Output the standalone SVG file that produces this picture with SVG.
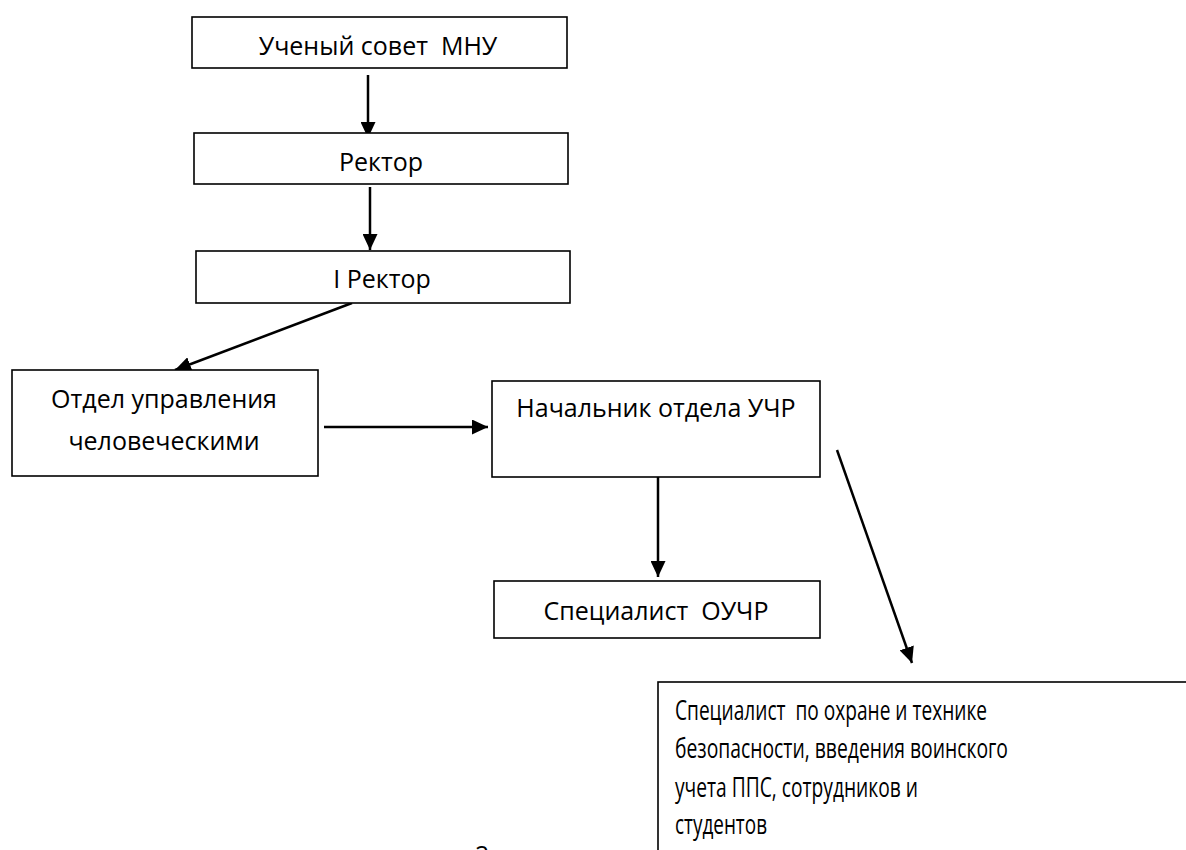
<svg xmlns="http://www.w3.org/2000/svg" width="1186" height="850" viewBox="0 0 1186 850">
<style>
.box{fill:#fff;stroke:#000;stroke-width:1.6}
.t{font-family:"Open Sans","Liberation Sans",sans-serif;font-size:25px;fill:#000;white-space:pre}
.c{text-anchor:middle}
.w{font-size:27px}
.ln{stroke:#000;stroke-width:2.5;fill:none}
</style>
<defs>
<marker id="ah" viewBox="0 0 16 15" refX="16" refY="7.5" markerWidth="16" markerHeight="15" markerUnits="userSpaceOnUse" orient="auto">
<path d="M0,0 L16,7.5 L0,15 z" fill="#000"/>
</marker>
</defs>
<rect width="1186" height="850" fill="#fff"/>
<g id="connectors">
<line class="ln" x1="368" y1="75" x2="368" y2="138" marker-end="url(#ah)"/>
<line class="ln" x1="370" y1="187" x2="370" y2="250" marker-end="url(#ah)"/>
<line class="ln" x1="352" y1="303" x2="175" y2="370" marker-end="url(#ah)"/>
<line class="ln" x1="324" y1="427" x2="488" y2="427" marker-end="url(#ah)"/>
<line class="ln" x1="658" y1="473" x2="658" y2="577" marker-end="url(#ah)"/>
<line class="ln" x1="837" y1="450" x2="912" y2="663" marker-end="url(#ah)"/>
</g>
<g id="n1"><rect class="box" x="192" y="17" width="375" height="51"/><text class="t c" x="378" y="55" xml:space="preserve">Ученый совет  МНУ</text></g>
<g id="n2"><rect class="box" x="194" y="133" width="374" height="51"/><text class="t c" x="381" y="171">Ректор</text></g>
<g id="n3"><rect class="box" x="196" y="251" width="374" height="52"/><text class="t c" x="382" y="288">I Ректор</text></g>
<g id="n4"><rect class="box" x="12" y="370" width="306" height="106"/><text class="t c" x="164" y="408">Отдел управления</text><text class="t c" x="164" y="450">человеческими</text></g>
<g id="n5"><rect class="box" x="492" y="381" width="328" height="96"/><text class="t c" x="656" y="417">Начальник отдела УЧР</text></g>
<g id="n6"><rect class="box" x="494" y="581" width="326" height="57"/><text class="t c" x="656" y="620" xml:space="preserve">Специалист  ОУЧР</text></g>
<g id="n7"><rect class="box" x="658" y="682" width="560" height="200"/>
<text class="t w" x="675" y="720" textLength="312" lengthAdjust="spacingAndGlyphs" xml:space="preserve">Специалист  по охране и технике</text>
<text class="t w" x="675" y="758" textLength="333" lengthAdjust="spacingAndGlyphs">безопасности, введения воинского</text>
<text class="t w" x="675" y="797" textLength="243" lengthAdjust="spacingAndGlyphs">учета ППС, сотрудников и</text>
<text class="t w" x="675" y="834" textLength="92" lengthAdjust="spacingAndGlyphs">студентов</text></g>
<text class="t" x="475" y="864">2</text>
</svg>
